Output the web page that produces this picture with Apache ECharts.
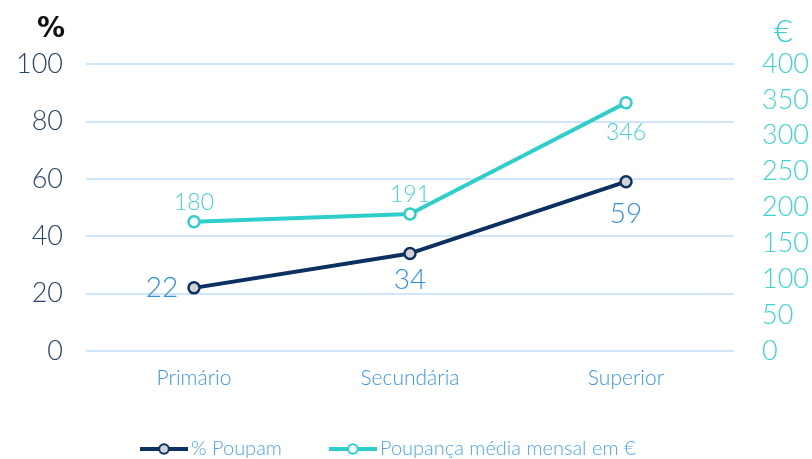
<!DOCTYPE html>
<html>
<head>
<meta charset="utf-8">
<script src="https://cdn.jsdelivr.net/npm/echarts@6/dist/echarts.min.js"></script>
<style>
  html, body { margin: 0; padding: 0; background: #fff; }
  #root { width: 812px; height: 459px; }
</style>
</head>
<body>
<div id="root"></div>
<script>
  var categories = ['Primário', 'Secundária', 'Superior']
  var poupam = [22, 34, 59]
  var poupancaMedia = [180, 191, 346]
  var seriesNames = ['% Poupam', 'Poupança média mensal em €']

  var navy = '#0b3160'
  var teal = '#2ecfcb'
  var blue = '#2f8fe0'
  var font = 'Lato'

  const chart = echarts.init(document.getElementById('root'))

  const option = {
    animation: false,
    textStyle: { fontFamily: font },
    grid: { left: 86, right: 78, top: 64, bottom: 108 },
    legend: {
      bottom: -5,
      left: 133,
      itemGap: 45,
      itemWidth: 48,
      itemHeight: 12,
      lineStyle: { width: 4 },
      textStyle: { color: '#4aa3f0', fontSize: 20, fontFamily: font, fontWeight: 300, padding: [0, 0, 0, -2] },
      data: seriesNames
    },
    xAxis: {
      type: 'category',
      data: categories,
      boundaryGap: true,
      axisLine: { show: false },
      axisTick: { show: false },
      axisLabel: { color: '#3b95ec', fontSize: 21, margin: 17, fontWeight: 300 }
    },
    yAxis: [
      {
        type: 'value',
        min: 0, max: 100, interval: 20,
        name: '%',
        nameLocation: 'end',
        nameGap: 20,
        nameTextStyle: { color: '#111', fontSize: 28, fontFamily: 'DejaVu Sans', fontWeight: 'bold', align: 'right', padding: [0, 21, 0, 0] },
        axisLine: { show: false },
        axisTick: { show: false },
        axisLabel: { color: '#2b4568', fontSize: 27, margin: 23, fontWeight: 300 },
        splitLine: { lineStyle: { color: '#cfe5f9', width: 2 } }
      },
      {
        type: 'value',
        min: 0, max: 400, interval: 50,
        name: '€',
        nameLocation: 'end',
        nameGap: 16,
        nameTextStyle: { color: teal, fontSize: 32, align: 'left', padding: [0, 0, 0, 40], fontWeight: 300 },
        axisLine: { show: false },
        axisTick: { show: false },
        axisLabel: { color: '#3dd3d0', fontSize: 27, margin: 28, fontWeight: 300 },
        splitLine: { show: false }
      }
    ],
    series: [
      {
        name: seriesNames[0],
        type: 'line',
        yAxisIndex: 0,
        data: poupam.map(function (v, i) {
          return { value: v, label: { position: i === 0 ? 'left' : 'bottom', distance: i === 0 ? 9 : (i === 2 ? 12 : 6) } }
        }),
        symbol: 'circle',
        symbolSize: 11,
        lineStyle: { color: navy, width: 4 },
        itemStyle: { color: '#d3d3d3', borderColor: navy, borderWidth: 2.5 },
        label: {
          show: true,
          color: blue,
          fontSize: 28,
          fontWeight: 300
        }
      },
      {
        name: seriesNames[1],
        type: 'line',
        yAxisIndex: 1,
        data: poupancaMedia.map(function (v, i) {
          return { value: v, label: { position: i === 2 ? 'bottom' : 'top', distance: i === 2 ? 12 : 1 } }
        }),
        symbol: 'circle',
        symbolSize: 11,
        lineStyle: { color: teal, width: 4 },
        itemStyle: { color: '#fff', borderColor: teal, borderWidth: 2.5 },
        label: {
          show: true,
          color: '#45d2d0',
          fontSize: 23,
          fontWeight: 300
        }
      }
    ]
  }

  chart.setOption(option)
</script>
</body>
</html>
